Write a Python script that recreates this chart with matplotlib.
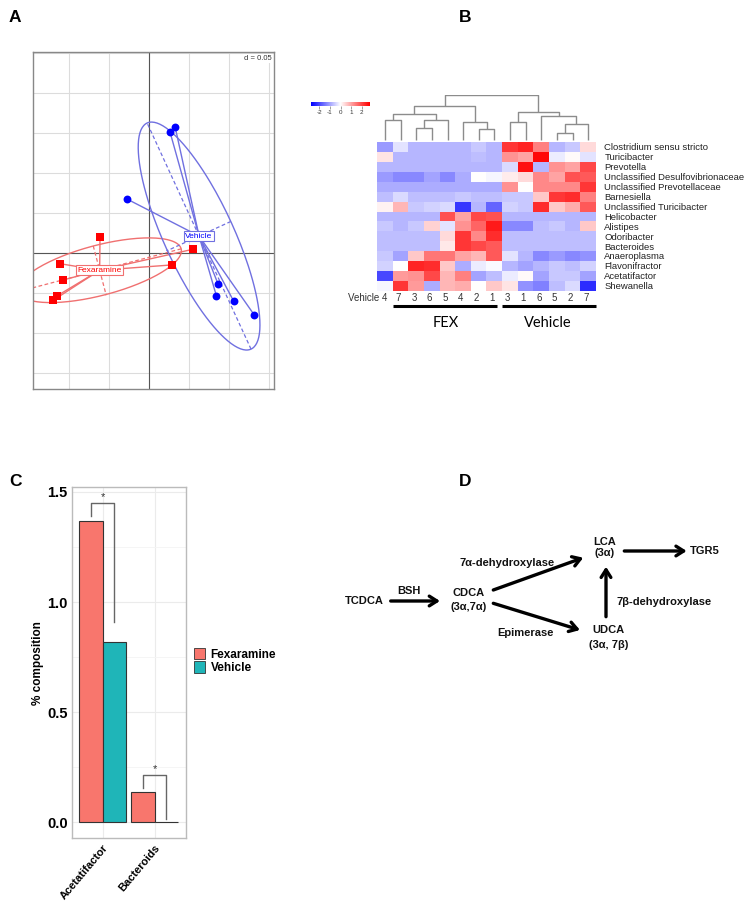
import matplotlib
matplotlib.use("Agg")
import matplotlib.pyplot as plt
import numpy as np
from matplotlib.colors import LinearSegmentedColormap
from matplotlib.patches import Patch

plt.rcParams["font.family"] = ["Liberation Sans", "DejaVu Sans"]

# ---- Panel A: ordination scores ----
fex_x = [-0.0613, 0.0545, 0.0285, -0.111, -0.108, -0.1155, -0.1195]
fex_y = [0.0195, 0.0045, -0.015, -0.0135, -0.034, -0.054, -0.059]
veh_x = [0.0325, 0.026, -0.028, 0.086, 0.084, 0.1055, 0.131]
veh_y = [0.1575, 0.1515, 0.0675, -0.0385, -0.0535, -0.060, -0.077]

# ---- Panel B: heatmap ----
taxa = ["Clostridium sensu stricto", "Turicibacter", "Prevotella",
        "Unclassified Desulfovibrionaceae", "Unclassified Prevotellaceae",
        "Barnesiella", "Unclassified Turicibacter", "Helicobacter", "Alistipes",
        "Odoribacter", "Bacteroides", "Anaeroplasma", "Flavonifractor",
        "Acetatifactor", "Shewanella"]
sample_labels = ["Vehicle 4", "7", "3", "6", "5", "4", "2", "1",
                 "3", "1", "6", "5", "2", "7"]
zscores = [
    [-1.1, -0.3, -0.8, -0.8, -0.8, -0.8, -0.6, -0.8, 2.2, 2.4, 1.4, -0.8, -0.6, 0.4],
    [0.3, -0.8, -0.8, -0.8, -0.8, -0.8, -0.7, -0.8, 1.2, 1.0, 2.7, -0.2, 0.05, -0.3],
    [-0.8, -0.8, -0.8, -0.8, -0.8, -0.8, -0.8, -0.8, -0.4, 2.6, -0.8, 1.2, 1.0, 2.0],
    [-1.1, -1.3, -1.3, -1.0, -1.3, -0.9, 0.0, -0.1, 0.2, 0.4, 1.3, 1.0, 1.9, 1.8],
    [-0.9, -0.9, -0.9, -0.9, -0.9, -0.9, -0.9, -0.9, 1.2, 0.0, 1.3, 1.3, 1.3, 2.2],
    [-0.7, -0.4, -0.7, -0.7, -0.7, -0.6, -0.7, -0.7, -0.6, -0.6, 0.6, 2.2, 2.3, 1.4],
    [0.15, 0.8, -0.6, -0.5, -0.4, -2.2, -0.8, -1.7, -0.5, -0.6, 2.3, 0.6, 0.9, 1.8],
    [-0.8, -0.8, -0.8, -0.8, 1.9, 1.0, 2.0, 1.9, -0.8, -0.8, -0.8, -0.8, -0.8, -0.8],
    [-0.6, -0.8, -0.6, 0.5, -0.3, 1.2, 1.7, 2.5, -1.3, -1.3, -0.7, -0.6, -0.8, 0.6],
    [-0.7, -0.7, -0.7, -0.7, 0.4, 2.2, 1.3, 2.3, -0.7, -0.7, -0.7, -0.7, -0.7, -0.7],
    [-0.7, -0.7, -0.7, -0.7, 0.25, 2.2, 2.0, 1.8, -0.7, -0.7, -0.7, -0.7, -0.7, -0.7],
    [-0.6, -1.0, 0.6, 1.5, 1.5, 1.0, 0.8, 1.8, -0.3, -0.8, -1.3, -1.1, -1.3, -1.2],
    [-0.5, 0.0, 2.4, 2.3, 0.6, -0.9, -0.2, -0.05, -0.8, -1.0, -0.8, -0.6, -0.7, -0.5],
    [-2.0, 1.1, 1.2, 2.0, 0.8, 1.4, -1.0, -0.7, -0.2, 0.05, -1.0, -0.6, -0.6, -1.0],
    [-0.1, 2.2, 1.1, -0.9, 0.8, 0.9, 0.0, 0.6, 0.3, -1.2, -1.4, -0.7, -0.4, -2.3],
]
# column dendrogram: (left node, right node, height); leaves 0..13, merges 14..
merges = [
    (0, 1, 20.7), (2, 3, 13.0), (15, 4, 21.4), (14, 16, 27.7),
    (6, 7, 11.4), (5, 18, 18.7), (17, 19, 35.4), (8, 9, 18.7),
    (11, 12, 8.0), (22, 13, 16.4), (10, 23, 25.4), (21, 24, 29.4),
    (20, 25, 46.4),
]

# ---- Panel C: % composition ----
genera = ["Acetatifactor", "Bacteroids"]
fex_pct = [1.37, 0.136]
veh_pct = [0.82, 0.0]

W, H = 754, 901
fig = plt.figure(figsize=(W / 100, H / 100), dpi=100)


def box(x0, y0, x1, y1):
    return [x0 / W, 1 - y1 / H, (x1 - x0) / W, (y1 - y0) / H]


# ================= A =================
axA = fig.add_axes(box(33, 52, 274, 389))
axA.set_xlim(-0.145, 0.156)
axA.set_ylim(-0.17, 0.251)
for v in np.arange(-0.15, 0.16, 0.05):
    axA.axvline(v, color="#dcdcdc", lw=0.8, zorder=0)
for v in np.arange(-0.15, 0.26, 0.05):
    axA.axhline(v, color="#dcdcdc", lw=0.8, zorder=0)
axA.axvline(0, color="#555555", lw=0.8, zorder=1)
axA.axhline(0, color="#555555", lw=0.8, zorder=1)
axA.set_xticks([])
axA.set_yticks([])
for s in axA.spines.values():
    s.set_color("#888888")
    s.set_linewidth(1.0)


def draw_group(ax, xs, ys, color, light, marker, label):
    xs, ys = np.array(xs), np.array(ys)
    cx, cy = xs.mean(), ys.mean()
    vals, vecs = np.linalg.eigh(np.cov(xs, ys, bias=True))
    t = np.linspace(0, 2 * np.pi, 200)
    unit = np.vstack([np.cos(t), np.sin(t)]) * np.sqrt(vals)[:, None]
    pts = np.array([cx, cy])[:, None] + 1.5 * (vecs @ unit)
    ax.plot(pts[0], pts[1], color=light, lw=1.0, zorder=2)
    for k in range(2):
        d = 1.5 * np.sqrt(vals[k]) * vecs[:, k]
        ax.plot([cx - d[0], cx + d[0]], [cy - d[1], cy + d[1]], color=light,
                lw=0.9, ls=(0, (3, 2)), zorder=2)
    for x, y in zip(xs, ys):
        ax.plot([cx, x], [cy, y], color=light, lw=1.0, zorder=2)
    ax.scatter(xs, ys, marker=marker, s=32, color=color, zorder=3, linewidths=0)
    ax.text(cx, cy, label, color=color, ha="center", va="center", fontsize=6,
            zorder=4, bbox=dict(boxstyle="square,pad=0.15", fc="white",
                                ec=light, lw=0.8))


draw_group(axA, fex_x, fex_y, "#ff0000", "#f07070", "s", "Fexaramine")
draw_group(axA, veh_x, veh_y, "#0000ff", "#7070e0", "o", "Vehicle")
axA.text(0.153, 0.247, "d = 0.05", ha="right", va="top", fontsize=5.5,
         color="#333333", zorder=5,
         bbox=dict(boxstyle="square,pad=0.1", fc="white", ec="none"))

# ================= B =================
bwr = LinearSegmentedColormap.from_list("bwr2", ["#0000ff", "#ffffff", "#ff0000"])
Z = np.array(zscores)
axH = fig.add_axes(box(377.3, 141.7, 596, 290.7))
axH.imshow(Z, cmap=bwr, vmin=-2.8, vmax=2.8, aspect="auto",
           extent=(0, Z.shape[1], Z.shape[0], 0), interpolation="nearest")
axH.set_xticks([])
axH.yaxis.tick_right()
axH.set_yticks(np.arange(len(taxa)) + 0.5)
axH.set_yticklabels(taxa, fontsize=6.8, color="#222222")
axH.tick_params(axis="y", length=0, pad=6)
for s in axH.spines.values():
    s.set_visible(False)
for i, lab in enumerate(sample_labels):
    if i == 0:
        axH.text(i + 0.65, 15.7, lab, ha="right", va="center", fontsize=7,
                 color="#333333")
    else:
        axH.text(i + 0.35, 15.7, lab, ha="center", va="center", fontsize=7,
                 color="#333333")

axD = fig.add_axes(box(377.3, 95, 596, 141.7))
pos = {i: i + 0.5 for i in range(Z.shape[1])}
hgt = {i: 0.0 for i in range(Z.shape[1])}
for k, (a, b, h) in enumerate(merges):
    axD.plot([pos[a], pos[a], pos[b], pos[b]], [hgt[a], h, h, hgt[b]],
             color="#8c8c8c", lw=1.0, solid_capstyle="butt")
    node = Z.shape[1] + k
    pos[node] = (pos[a] + pos[b]) / 2
    hgt[node] = h
axD.set_xlim(0, Z.shape[1])
axD.set_ylim(-1.5, max(m[2] for m in merges) + 0.5)
axD.axis("off")

axK = fig.add_axes(box(311, 101.7, 370, 106))
grad = np.linspace(-2.8, 2.8, 256)[None, :]
axK.imshow(grad, cmap=bwr, vmin=-2.8, vmax=2.8, aspect="auto",
           extent=(-2.8, 2.8, 0, 1))
axK.set_yticks([])
axK.set_xticks([-2, -1, 0, 1, 2])
axK.set_xticklabels(["-2", "-1", "0", "1", "2"], fontsize=4.5, color="#333333")
axK.tick_params(axis="x", length=2, width=0.5, pad=1, color="#777777")
for s in axK.spines.values():
    s.set_visible(False)

# ================= C =================
axC = fig.add_axes(box(71.7, 487, 185.7, 838.3))
xc = np.arange(1, len(genera) + 1)
bw = 0.45
axC.bar(xc - bw / 2, fex_pct, width=bw, color="#F8766D", edgecolor="#333333",
        lw=0.8, zorder=3)
axC.bar(xc + bw / 2, veh_pct, width=bw, color="#1FB5B8", edgecolor="#333333",
        lw=0.8, zorder=3)
axC.set_xlim(0.4, 2.6)
axC.set_ylim(-0.0725, 1.5225)
axC.set_yticks([0, 0.5, 1.0, 1.5])
axC.set_yticks([0.25, 0.75, 1.25], minor=True)
axC.set_yticklabels(["0.0", "0.5", "1.0", "1.5"], fontsize=10.5,
                    fontweight="bold")
axC.set_xticks(xc)
axC.set_xticklabels(genera, rotation=50, ha="right", rotation_mode="anchor",
                    fontsize=8, fontweight="bold")
axC.tick_params(axis="both", which="both", length=0, pad=3)
axC.grid(True, which="major", color="#ebebeb", lw=0.8, zorder=0)
axC.grid(True, which="minor", axis="y", color="#f4f4f4", lw=0.6, zorder=0)
for s in axC.spines.values():
    s.set_color("#bbbbbb")
    s.set_linewidth(1.0)
axC.set_ylabel("% composition", fontsize=8.5, fontweight="bold", labelpad=2)

# significance brackets
for i, (f, v) in enumerate(zip(fex_pct, veh_pct)):
    top = max(f, v) + 0.08
    xl, xr = xc[i] - bw / 2, xc[i] + bw / 2
    axC.plot([xl, xl, xr, xr], [f + 0.02, top, top, v + 0.09 if v > 0 else 0.015],
             color="#666666", lw=1.0, zorder=4)
    axC.text(xc[i], top + 0.005, "*", ha="center", va="bottom", fontsize=8,
             color="#333333")

axC.legend(handles=[Patch(fc="#F8766D", ec="#333333", lw=0.6, label="Fexaramine"),
                    Patch(fc="#1FB5B8", ec="#333333", lw=0.6, label="Vehicle")],
           loc="upper left", bbox_to_anchor=(194 / W, 1 - 648 / H),
           bbox_transform=fig.transFigure, frameon=False,
           prop={"size": 8.5, "weight": "bold"}, handlelength=0.9,
           handleheight=1.1, handletextpad=0.5, labelspacing=0.05,
           borderpad=0, borderaxespad=0)

# ================= overlay: labels, panel D =================
ov = fig.add_axes([0, 0, 1, 1])
ov.set_xlim(0, W)
ov.set_ylim(H, 0)
ov.axis("off")
ov.patch.set_alpha(0)

for lab, (x, y) in {"A": (15, 17), "B": (465, 17), "C": (15, 482),
                    "D": (465, 482)}.items():
    ov.text(x, y, lab, ha="center", va="center", fontsize=12.5,
            fontweight="bold")

ov.plot([392.7, 496.7], [306, 306], color="black", lw=2.2,
        solid_capstyle="butt")
ov.plot([502, 596], [306, 306], color="black", lw=2.2, solid_capstyle="butt")
ov.text(445.7, 322.7, "FEX", ha="center", va="center", fontsize=10.5,
        family=["Lato", "DejaVu Sans"])
ov.text(548, 322.7, "Vehicle", ha="center", va="center", fontsize=10.5,
        family=["Lato", "DejaVu Sans"])

txt = dict(ha="center", va="center", fontsize=8, fontweight="bold",
           color="#111111")
ov.text(364, 601, "TCDCA", **txt)
ov.text(409, 591, "BSH", **txt)
ov.text(468.3, 593.3, "CDCA", **txt)
ov.text(468.3, 607.3, "(3α,7α)", **txt)
ov.text(507, 562.7, "7α-dehydroxylase", **txt)
ov.text(525.7, 633.3, "Epimerase", **txt)
ov.text(605, 541.7, "LCA", **txt)
ov.text(605, 553.3, "(3α)", **txt)
ov.text(705, 551, "TGR5", **txt)
ov.text(608.3, 630, "UDCA", **txt)
ov.text(608.3, 645, "(3α, 7β)", **txt)
ov.text(616.7, 601.7, "7β-dehydroxylase", ha="left", va="center",
        fontsize=8, fontweight="bold", color="#111111")

arrow = dict(arrowstyle="->,head_width=0.35,head_length=0.55", lw=2.4,
             color="black", shrinkA=0, shrinkB=0)
for (x0, y0), (x1, y1) in [((390.7, 601), (440, 601)),
                           ((493.3, 590), (583.3, 557.7)),
                           ((493.3, 603.3), (580, 630)),
                           ((606, 616.7), (606, 566.7)),
                           ((624.3, 551), (686.7, 551))]:
    ov.annotate("", xy=(x1, y1), xytext=(x0, y0), arrowprops=arrow)

fig.savefig("out.png", dpi=100)
